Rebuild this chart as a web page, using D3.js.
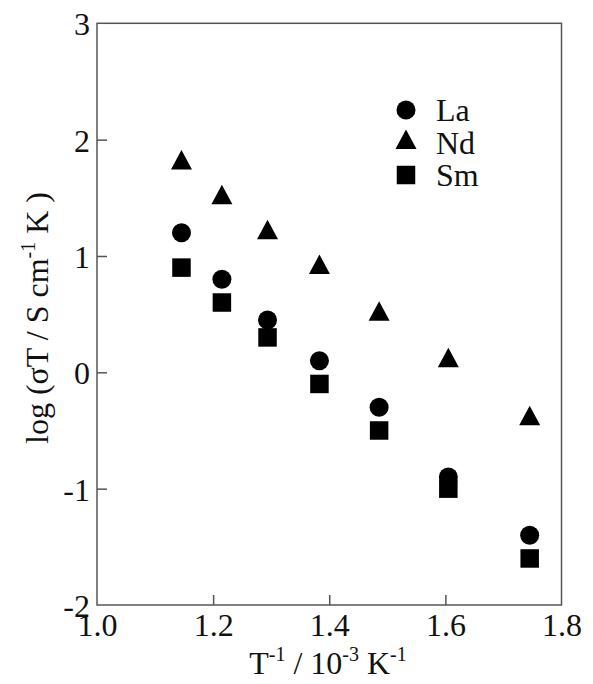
<!DOCTYPE html>
<html>
<head>
<meta charset="utf-8">
<script src="https://cdn.jsdelivr.net/npm/d3@7"></script>
<style>
  html, body { margin: 0; padding: 0; background: #ffffff; }
  svg { display: block; }
  svg text { font-family: 'Liberation Serif', 'Times New Roman', Times, 'DejaVu Serif', serif !important; fill: #111; }
</style>
</head>
<body>
<svg id="chart" width="593" height="684"></svg>
<script>
// ---- data ----
const invT = [1.1455, 1.2151, 1.2937, 1.3831, 1.4859, 1.6051, 1.7452];
const laValues = [1.2, 0.8, 0.45, 0.1, -0.3, -0.9, -1.4];
const ndValues = [1.8, 1.5, 1.2, 0.9, 0.5, 0.1, -0.4];
const smValues = [0.9, 0.6, 0.3, -0.1, -0.5, -1.0, -1.6];
const seriesNames = ["La", "Nd", "Sm"];
const xTicks = [1.0, 1.2, 1.4, 1.6, 1.8];
const yTicks = [-2, -1, 0, 1, 2, 3];

const series = [
  { name: "La", values: laValues, shape: "circle" },
  { name: "Nd", values: ndValues, shape: "triangle" },
  { name: "Sm", values: smValues, shape: "square" }
];

const FONT = "'Liberation Serif', 'Times New Roman', serif";
const FS = 32, SUP = 20, RAISE = 13;
const svg = d3.select("#chart");
const x = d3.scaleLinear().domain([1.0, 1.8]).range([97, 561.5]);
const y = d3.scaleLinear().domain([-2, 3]).range([605, 23.3]);

// symbols
const triangleType = {
  draw(ctx, size) {
    const w = 10.5, h = 19.5;
    ctx.moveTo(0, -h * 2 / 3);
    ctx.lineTo(w, h / 3);
    ctx.lineTo(-w, h / 3);
    ctx.closePath();
  }
};
const symbolFor = {
  circle: d3.symbol(d3.symbolCircle, Math.PI * 9.5 * 9.5),
  square: d3.symbol(d3.symbolSquare, 18.5 * 18.5),
  triangle: d3.symbol(triangleType, 1)
};

// frame
svg.append("rect")
  .attr("x", x(1.0)).attr("y", y(3))
  .attr("width", x(1.8) - x(1.0)).attr("height", y(-2) - y(3))
  .attr("fill", "none").attr("stroke", "#555").attr("stroke-width", 1.5);

const hyphen = d => String(d).replace("\u2212", "-");

// axes (inward ticks)
const xAxis = d3.axisBottom(x).tickValues(xTicks).tickSizeInner(-10).tickSizeOuter(0)
  .tickFormat(d3.format(".1f"));
const gx = svg.append("g").attr("transform", `translate(0,${y(-2)})`).call(xAxis)
  .attr("font-family", FONT);
gx.select(".domain").remove();
gx.selectAll(".tick line").attr("stroke", "#555").attr("stroke-width", 1.5)
  .filter(d => d === 1.0 || d === 1.8).remove();
gx.selectAll(".tick text").attr("font-size", FS).attr("fill", "#111")
  .style("font-family", FONT).attr("dy", "0.71em").attr("y", 8);

const yAxis = d3.axisLeft(y).tickValues(yTicks).tickSizeInner(-10).tickSizeOuter(0)
  .tickFormat(d => hyphen(d3.format("d")(d)));
const gy = svg.append("g").attr("transform", `translate(${x(1.0)},0)`).call(yAxis)
  .attr("font-family", FONT);
gy.select(".domain").remove();
gy.selectAll(".tick line").attr("stroke", "#555").attr("stroke-width", 1.5)
  .filter(d => d === -2 || d === 3).remove();
gy.selectAll(".tick text").attr("font-size", FS).attr("fill", "#111")
  .style("font-family", FONT).attr("x", -7).attr("dy", "0.36em");

// points
series.forEach(s => {
  svg.append("g").selectAll("path")
    .data(s.values.map((v, i) => [invT[i], v]))
    .join("path")
    .attr("d", symbolFor[s.shape])
    .attr("transform", d => `translate(${x(d[0])},${y(d[1])})`)
    .attr("fill", "#000");
});

// legend
const legend = svg.append("g");
series.forEach((s, i) => {
  const ly = 110 + i * 32.5;
  legend.append("path").attr("d", symbolFor[s.shape])
    .attr("transform", `translate(406,${ly})`).attr("fill", "#000");
  legend.append("text").attr("x", 436).attr("y", ly).attr("dy", "0.35em")
    .style("font-family", FONT).attr("font-size", FS).text(seriesNames[i]);
});

// x title
const xt = svg.append("text").attr("x", 328).attr("y", 674)
  .attr("text-anchor", "middle").attr("font-size", FS).style("font-family", FONT);
xt.append("tspan").text("T");
xt.append("tspan").attr("font-size", SUP).attr("dy", -RAISE).text("-1");
xt.append("tspan").attr("dy", RAISE).text(" / 10");
xt.append("tspan").attr("font-size", SUP).attr("dy", -RAISE).text("-3");
xt.append("tspan").attr("dy", RAISE).text(" K");
xt.append("tspan").attr("font-size", SUP).attr("dy", -RAISE).text("-1");

// y title
const yt = svg.append("text")
  .attr("transform", "translate(48,318) rotate(-90)")
  .attr("text-anchor", "middle").attr("font-size", FS).style("font-family", FONT);
yt.append("tspan").text("log (σT / S cm");
yt.append("tspan").attr("font-size", SUP).attr("dy", -RAISE).text("-1");
yt.append("tspan").attr("dy", RAISE).text(" K )");
</script>
</body>
</html>
